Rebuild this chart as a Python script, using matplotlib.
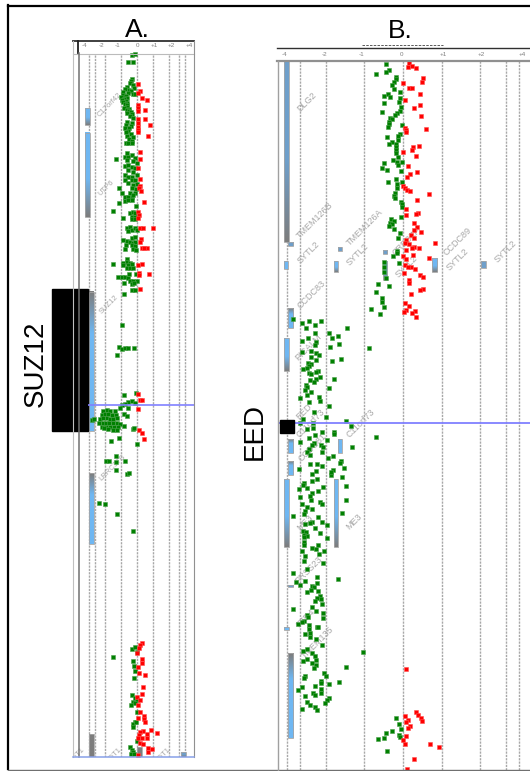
import numpy as np
import matplotlib
matplotlib.use("Agg")
import matplotlib.pyplot as plt
from matplotlib.colors import LinearSegmentedColormap
from matplotlib.lines import Line2D
from matplotlib.patches import Rectangle

plt.rcParams['font.family'] = ['Liberation Sans', 'DejaVu Sans']

W, H = 530, 771

# log ratio, row position on the track
a_green = np.array([
    (-.33,55),(-.12,54),(-.54,62),(-.27,62),(-.3,79),(-.4,81),(-.45,83),(-.25,85),(-.6,87),(-.2,88),(-.75,89),(-.5,90),
    (-.35,91),(-.85,92),(-.55,93),(-.25,94),(-.1,94),(-.9,95),(-.7,96),(-1.0,97),(-.6,98),(-.8,99),(-.95,100),(-.7,101),
    (-.85,102),(-.6,103),(-.75,104),(-.65,105),(-.6,107),(-.8,108),(-.5,109),(-.65,110),(-.5,111),(-.4,112),(-.6,113),
    (-.3,114),(-.45,116),(-.25,118),(-.6,122),(-.3,123),(-.7,125),(-.4,126),(-.75,128),(-.5,128),(-.55,131),(-.7,132),
    (-.35,134),(-.6,136),(-.25,137),(-.5,139),(-.3,141),(-.7,143),(-.55,143),(-.3,143),
    (-1.33,159),(-.65,153),(-.75,157),(-.54,157),(-.33,155),(-.12,158),(-.65,160),(-.23,161),(-.02,163),(-.75,166),
    (-.54,165),(-.33,167),(-.12,168),(-.54,170),(-.23,172),(-.75,175),(-.54,177),(-.33,177),(-.02,175),(-.75,180),
    (-.33,180),(-.12,180),(-.54,183),(-.23,185),(-.02,184),(-1.1,188),(-.33,188),(-.06,189),(-.96,193),(-.44,193),
    (-.12,193),(-.75,197),(-.54,197),(-.33,197),(-.23,195),(-1.1,203),(-.75,201),(-.54,200),(-.33,200),(-.06,206),
    (-1.48,211),(-.44,213),(-.23,212),(-.12,213),(-.33,217),(-.12,217),(-.9,218),(-.33,219),(-.12,219),
    (-.65,228),(-.44,227),(-.54,231),(-.33,230),(-.12,228),(-.02,230),(-.85,240),(-.65,241),(-.33,238),(-.12,237),
    (-.44,242),(-.23,243),(-.12,242),(-.69,245),(-.33,245),(-.12,246),(-.75,249),(-.23,249),(-.06,250),(-.65,259),
    (-1.52,264),(-.85,263),(-.65,262),(-.44,263),(-.85,265),(-.54,265),(-.33,264),(-.65,268),(-.44,268),(-.23,268),
    (-.48,274),(-.06,274),(-1.17,277),(-.96,277),(-.75,277),(-.54,278),(-.44,281),(-.23,281),(-.02,281),(-.81,283),
    (-.33,284),(-.19,283),(-.33,290),(-.12,290),(-.81,294),(-.94,325),(-1.1,347),(-.96,349),(-.75,348),(-.58,348),
    (-.17,348),(-1.27,355),(-.81,395),(-.06,393),(-.54,402),(-.33,401),(-.75,404),(-.12,403),(-.96,405),(-1.06,408),
    (-.54,408),(-.81,414),(-.6,416),(-2.83,420),(-2.67,419),
    (-2.1,411),(-1.9,410),(-1.69,411),(-1.38,411),(-2.21,415),(-2.0,414),(-1.79,414),(-1.58,415),(-1.33,415),(-2.31,419),
    (-2.1,418),(-1.9,418),(-1.69,419),(-1.48,419),(-1.27,418),(-2.35,423),(-2.15,423),(-1.94,423),(-1.73,423),(-1.52,423),
    (-1.27,423),(-1.06,424),(-.81,426),(-2.21,427),(-1.94,427),(-1.69,427),(-1.44,427),(-1.17,427),(-1.79,429),(-1.48,430),
    (-1.23,430),(-2.06,428),(-.27,429),(-.17,428),(-1.63,441),(-1.15,438),(-.02,444),
    (-1.33,456),(-1.94,461),(-1.75,461),(-1.33,462),(-.75,461),(-1.33,470),(-.65,474),(-.48,473),(-2.38,503),(-2.02,504),
    (-1.27,514),(-.23,531),(-1.48,657),(-.33,649),(-.12,647),(-.02,652),(-.27,661),(-.17,666),(-.1,671),(-.17,678),
    (-.29,695),(-.12,698),(-.02,700),(-.27,702),(-.4,705),(-.12,703),(-.02,712),(-.12,722),(-.23,724),(-.06,722),
    (-.23,727),(-.02,741),(-.44,747),(-.33,750),(-.23,752),(-.4,754),(-.19,754),
])
a_red = np.array([
    (.08,84),(.19,91),(.08,93),(.29,98),(.63,100),(.04,105),(.04,108),(.5,110),(.08,111),(.5,119),(.08,119),(.08,123),
    (.83,125),(.08,127),(.08,130),(.08,132),(.67,136),(.19,152),(.21,159),(.08,168),(.19,179),(.19,186),(.12,188),
    (.23,191),(.46,202),(.08,212),(.12,215),(.04,218),(.19,228),(.4,228),(1.0,228),(.25,239),(.19,242),(.29,248),
    (.6,248),(.44,248),(.04,265),(.33,264),(.12,273),(.12,275),(.75,274),(.17,289),(.04,394),(.19,400),(.29,400),
    (.08,409),(.12,430),(.33,433),(.42,439),(.29,643),(.19,645),(.15,648),(.02,653),(.29,659),(.29,663),(.08,667),
    (.15,673),(.5,675),(.35,687),(.29,694),(.02,697),(.19,700),(.08,705),(.19,712),(.46,716),(.08,718),(.46,719),
    (.5,722),(.4,731),(.19,732),(.88,730),(1.25,733),(.6,734),(.12,735),(.08,738),(.29,738),(.6,738),(.19,743),
    (.4,744),(.71,748),(.92,749),(.67,752),(.04,755),
])
b_green = np.array([
    (-.43,64),(-.36,70),(-.43,72),(-.7,74),(-.17,77),(-.19,79),(-.22,82),(-.28,85),(-.22,89),(-.09,92),(-.38,94),(-.5,96),
    (-.33,97),(-.07,98),(-.1,102),(-.5,103),(-.05,107),(-.53,112),(-.09,111),(-.16,113),(-.21,115),(-.33,118),(-.29,119),
    (-.36,122),(-.36,124),(-.38,127),(-.02,125),(-.07,134),(-.12,136),(-.42,137),(-.12,140),(-.29,142),(-.35,144),
    (-.19,144),(-.19,147),(-.19,150),(-.19,153),(-.12,157),(-.25,160),(-.03,162),(-.15,162),(-.48,163),(-.14,165),
    (-.53,168),(-.41,170),(-.06,171),(-.19,179),(-.38,182),(-.02,182),(-.15,184),(-.16,188),(-.21,193),(-.23,196),
    (-.21,198),(-.05,202),(-.02,204),(-.02,207),(-.05,217),(-.31,219),(-.22,221),(-.34,223),(-.29,224),(-.36,226),
    (-.24,229),(-.08,233),(-.12,238),(-.16,251),(-.16,253),(-.27,256),(-.5,262),(-.1,263),(-.48,267),(-.48,272),
    (-.45,278),(-.64,284),(-.37,286),(-.71,292),(-.55,298),(-.53,302),(-.82,309),(-.5,307),(-.59,314),
    (-2.84,319),(-2.6,323),(-2.42,321),(-2.27,325),(-2.11,321),(-2.5,328),(-1.44,328),(-2.28,333),(-1.91,333),(-1.69,336),
    (-2.45,338),(-1.84,338),(-2.62,341),(-2.25,342),(-2.28,345),(-1.65,344),(-1.88,347),(-.89,348),(-2.62,352),(-2.37,351),
    (-2.25,353),(-2.17,355),(-2.37,357),(-2.24,360),(-1.84,361),(-1.6,359),(-2.45,363),(-2.38,364),(-2.42,366),(-2.58,369),
    (-2.49,368),(-2.19,371),(-2.44,373),(-2.37,374),(-2.24,372),(-2.15,377),(-2.24,379),(-1.79,379),(-2.4,380),(-2.31,382),
    (-2.51,385),(-2.49,387),(-2.53,390),(-2.39,392),(-2.49,395),(-1.92,388),(-2.65,398),(-2.16,397),(-2.15,401),(-2.44,402),
    (-1.91,406),(-2.31,412),(-1.99,417),(-2.59,419),(-1.46,421),(-2.66,423),(-2.32,423),(-1.34,426),(-2.48,429),(-2.33,428),
    (-2.09,432),(-1.79,432),(-1.79,434),(-2.28,435),(-.71,437),(-2.42,438),(-1.97,440),(-2.66,442),(-2.3,443),(-2.36,445),
    (-2.12,445),(-1.33,447),(-2.43,449),(-2.06,447),(-2.47,452),(-2.09,452),(-2.4,455),(-1.81,456),(-1.93,458),(-1.6,461),
    (-1.63,463),(-2.41,464),(-2.22,464),(-2.1,466),(-1.53,468),(-2.69,469),(-2.25,471),(-1.82,470),(-2.35,474),(-1.86,475),
    (-1.87,472),(-1.58,477),(-2.21,479),(-2.34,481),(-2.55,483),(-2.59,485),(-1.46,486),(-2.06,487),(-2.68,489),(-2.47,488),
    (-2.19,491),(-2.36,493),(-2.41,496),(-2.66,497),(-1.46,500),(-2.39,500),(-2.15,502),(-2.1,504),(-2.6,504),(-2.47,507),
    (-2.34,509),(-2.53,511),(-1.58,513),(-2.56,514),(-2.84,516),(-2.19,517),(-2.36,522),(-2.41,523),(-2.09,522),(-2.53,524),
    (-1.96,525),(-2.28,528),(-2.59,531),(-2.51,532),(-2.15,533),(-2.57,535),(-2.47,536),(-2.55,537),(-1.96,538),
    (-2.56,542),(-2.56,545),(-2.19,545),(-2.34,548),(-2.24,549),(-2.03,551),(-2.62,551),(-2.16,554),(-2.53,556),(-2.55,561),
    (-2.08,563),(-2.49,569),(-2.85,573),(-2.22,577),(-1.67,579),(-2.52,581),(-2.77,582),(-2.65,585),(-2.23,583),(-2.36,586),
    (-2.3,587),(-2.47,592),(-2.19,591),(-2.38,590),(-2.15,596),(-2.21,598),(-2.28,601),(-2.12,599),(-2.1,604),(-2.34,607),
    (-2.84,609),(-2.25,611),(-2.08,613),(-2.08,618),(-2.49,615),(-2.45,617),(-2.55,621),(-2.62,622),(-2.71,624),(-2.43,625),
    (-2.43,629),(-2.23,627),(-2.19,627),(-2.4,633),(-2.53,634),(-2.41,637),(-2.26,639),(-2.09,645),(-1.04,652),(-2.59,651),
    (-2.47,649),(-2.36,653),(-2.28,656),(-2.47,659),(-2.59,661),(-2.24,660),(-2.34,663),(-2.24,665),(-2.3,668),(-1.46,667),
    (-2.03,673),(-2.0,676),(-2.53,676),(-2.57,678),(-2.13,681),(-2.13,683),(-1.91,684),(-1.65,682),(-2.27,686),(-2.6,687),
    (-2.71,690),(-2.11,689),(-2.11,693),(-2.32,693),(-2.27,695),(-2.54,696),(-1.91,698),(-1.96,700),(-2.02,703),(-2.49,702),
    (-2.41,705),(-2.28,707),(-2.6,709),(-2.21,710),
    (-.17,718),(-.1,724),(-.06,729),(-.29,731),(-.43,733),(-.48,738),(-.65,739),(-.1,735),(-.08,737),(-.41,751),
])
b_red = np.array([
    (.16,63),(.14,67),(.24,66),(.33,68),(.52,78),(.48,82),(0,83),(.16,88),(.22,88),(.44,94),(.06,100),(.45,105),(.28,108),
    (.47,116),(.6,129),(.05,128),(.09,130),(.09,132),(.41,146),(.26,147),(.23,150),(0,152),(.34,156),(.13,166),(.37,172),
    (.18,174),(.11,177),(0,186),(.05,188),(.11,190),(.19,191),(.66,194),(.37,200),(.09,209),(.4,213),(.33,214),(.07,215),
    (.28,223),(.37,227),(.28,230),(.47,232),(.21,235),(.28,238),(.09,240),(.05,243),(.16,244),(.83,243),(.28,247),(.22,248),
    (.09,250),(.41,248),(.01,256),(.25,255),(.09,259),(.66,258),(.05,265),(.2,267),(.14,267),(.31,269),(.03,273),(.44,275),
    (.52,277),(.16,280),(.16,283),(.52,289),(.44,290),(.2,294),(.05,303),(.15,306),(.07,310),(.03,312),(.3,311),(.22,313),
    (.34,317),(.09,669),(.04,716),(.34,712),(.38,715),(.47,718),(.5,721),(.14,720),(.09,722),(.17,726),(.14,728),(.09,736),
    (-.01,740),(.04,744),(.71,744),(.93,747),(.28,759),(.11,769),
])

tick_labels = ['-4', '-2', '-1', '0', '+1', '+2', '+4']
a_tick_pos = [-3.25, -2.19, -1.19, 0, 1.06, 2.13, 3.25]
b_tick_pos = [-3.07, -2.04, -1.06, -0.03, 1.03, 2.02, 3.07]
grid_vals = [-3, -2.65, -2, -1, 0, 1, 2, 2.65, 3]

BLUE, GRAY, STEEL = '#6fb7f2', '#7d7d7d', '#6f9fca'
# x0, x1, y0, y1, top colour, bottom colour
a_genes = [
    (-3.25, -2.94, 108, 125, BLUE, GRAY),
    (-3.25, -2.94, 133, 217, BLUE, GRAY),
    (-3.0, -2.69, 292, 431, GRAY, BLUE),
    (-3.0, -2.69, 473, 544, GRAY, BLUE),
    (-3.0, -2.69, 734, 757, GRAY, GRAY),
    (0.0, 0.31, 747, 757, GRAY, GRAY),
    (2.75, 3.06, 752, 757, STEEL, GRAY),
]
b_genes = [
    (-3.07, -2.95, 61, 242, STEEL, GRAY),
    (-2.97, -2.84, 242, 246, STEEL, STEEL),
    (-3.07, -2.97, 261, 269, BLUE, BLUE),
    (-1.68, -1.58, 247, 251, STEEL, STEEL),
    (-1.78, -1.68, 261, 272, BLUE, GRAY),
    (-.52, -.41, 250, 254, STEEL, STEEL),
    (-.52, -.41, 261, 280, BLUE, GRAY),
    (.75, .88, 258, 272, BLUE, GRAY),
    (2.02, 2.14, 261, 268, STEEL, STEEL),
    (-2.97, -2.84, 308, 328, GRAY, BLUE),
    (-3.07, -2.95, 338, 371, BLUE, GRAY),
    (-2.97, -2.84, 439, 453, GRAY, BLUE),
    (-2.97, -2.84, 461, 475, GRAY, BLUE),
    (-1.68, -1.58, 439, 453, BLUE, BLUE),
    (-3.07, -2.95, 479, 547, BLUE, GRAY),
    (-1.78, -1.68, 479, 547, BLUE, GRAY),
    (-2.97, -2.84, 585, 587, STEEL, STEEL),
    (-3.07, -2.95, 627, 630, BLUE, BLUE),
    (-2.97, -2.84, 653, 738, GRAY, BLUE),
]
a_names = [('C17orf42', -1.7, 105), ('UTP6', -1.9, 188), ('SUZ12', -1.75, 305), ('LRRC37B', -1.55, 468),
           ('RHOT1', -1.6, 758), ('RHOT1', 1.45, 758), ('RHOT1', -3.9, 758)]
b_names = [('DLG2', -2.48, 102), ('TMEM126B', -2.27, 220), ('TMEM126A', -.99, 227), ('CCDC89', 1.42, 242),
           ('SYTL2', -2.45, 253), ('SYTL2', -1.17, 255), ('SYTL2', 1.4, 260), ('SYTL2', 2.64, 252),
           ('SYTL2', .1, 267), ('CREBZF', .1, 242), ('CCDC83', -2.37, 295), ('PICALM', -2.45, 347),
           ('EED', -2.55, 412), ('C11orf73', -2.4, 423), ('C11orf73', -1.09, 423), ('CCDC81', -2.35, 448),
           ('ME3', -2.53, 523), ('ME3', -1.27, 522), ('PRSS23', -2.45, 570), ('FZD4', -2.53, 618),
           ('TMEM135', -2.2, 643)]


def make_axes(left, right, top, bottom):
    ax = fig.add_axes([left / W, 1 - bottom / H, (right - left) / W, (bottom - top) / H])
    ax.axis('off')
    return ax


def draw_panel(ax, greens, reds, genes, names, tick_pos, tick_y, grid_top, bottom, name_size):
    ax.vlines(grid_vals, grid_top, bottom, color='#a8a8a8', lw=1, linestyles=(0, (1.6, 0.8)), zorder=1)
    for x0, x1, y0, y1, c_top, c_bottom in genes:
        # the grey end of a bar is short, most of it stays blue
        if c_top == GRAY:
            stops = [(0, c_top), (0.3, c_bottom), (1, c_bottom)]
        else:
            stops = [(0, c_top), (0.55, c_top), (1, c_bottom)]
        cmap = LinearSegmentedColormap.from_list('g', stops)
        ax.imshow(np.linspace(0, 1, 64).reshape(-1, 1), cmap=cmap, aspect='auto', extent=(x0, x1, y1, y0),
                  zorder=2, interpolation='bilinear')
        ax.add_patch(Rectangle((x0, y0), x1 - x0, y1 - y0, fill=False, ec='#a5a5a5', lw=0.6, zorder=2))
    for name, x, y in names:
        ax.text(x, y, name, rotation=45, fontsize=name_size, color='#a8a8a8', ha='center', va='center',
                zorder=3, clip_on=True)
    ax.plot(greens[:, 0], greens[:, 1], 's', color='#008000', ms=3.3, mew=0.4, mec='#4aa04a', zorder=4)
    ax.plot(reds[:, 0], reds[:, 1], 's', color='#ff0000', ms=3.3, mew=0.4, mec='#ff5050', zorder=4)
    for pos, lab in zip(tick_pos, tick_labels):
        ax.text(pos, tick_y, lab, fontsize=4.5, color='#808080', ha='center', va='center')


fig = plt.figure(figsize=(W / 100, H / 100), dpi=100)


def fig_line(xs, ys, color='black', lw=1.0, **kw):
    fig.add_artist(Line2D([x / W for x in xs], [1 - y / H for y in ys], color=color, lw=lw, **kw))


# panel A
ax_a = make_axes(73, 194, 41, 757)
draw_panel(ax_a, a_green, a_red, a_genes, a_names, a_tick_pos, 46, 55, 757, 5.5)
ax_a.set_xlim((73 - 137) / 16, (194 - 137) / 16)
ax_a.set_ylim(757, 41)
ax_a.add_patch(Rectangle((-5.31, 289), 2.25, 142, color='black', clip_on=False, zorder=5))
ax_a.hlines(405, -3.06, 3.56, color='#8080ff', lw=1.2, zorder=5)
ax_a.text(-6.35, 364, 'SUZ12', rotation=90, fontsize=20, ha='center', va='center', clip_on=False)
ax_a.text(0, 30, 'A.', fontsize=19, ha='center', va='center', clip_on=False)

# panel B
ax_b = make_axes(278, 530, 47, 771)
draw_panel(ax_b, b_green, b_red, b_genes, b_names, b_tick_pos, 54, 61, 771, 6.5)
ax_b.set_xlim((278 - 403) / 38.7, (530 - 403) / 38.7)
ax_b.set_ylim(771, 47)
ax_b.add_patch(Rectangle((-3.18, 420), 0.36, 13, color='black', clip_on=False, zorder=5))
ax_b.hlines(422.7, (278 - 403) / 38.7, (530 - 403) / 38.7, color='#8080ff', lw=1.3, zorder=4.5)
ax_b.text(-3.83, 432, 'EED', rotation=90, fontsize=20, ha='center', va='center', clip_on=False)
ax_b.text(-0.08, 31, 'B.', fontsize=19, ha='center', va='center', clip_on=False)

# outer frame
fig_line([8, 8], [5, 769], lw=1.6)
fig_line([8, 530], [5.5, 5.5], lw=1.6)
fig_line([8, 530], [769.8, 769.8], color='#707070', lw=1)

# panel A rules
fig_line([73, 194], [41, 41], color='#303030', lw=1.3)
fig_line([73, 194], [53.5, 53.5], color='#bbbbbb', lw=0.8)
fig_line([78, 78], [41, 53], color='#202020', lw=1.3)
fig_line([78.5, 78.5], [53, 757], color='#707070', lw=1.1)
fig_line([73, 73], [41, 757], color='#c0c0c0', lw=0.8)
fig_line([194, 194], [41, 757], color='#909090', lw=0.8)
fig_line([73, 194], [757, 757], color='#88a0e8', lw=1.1)

# panel B rules
fig_line([277, 530], [48, 48], color='#303030', lw=1)
fig_line([277, 530], [61, 61], color='#909090', lw=1.6)
fig_line([278, 278], [61, 771], color='#a0a0a0', lw=1)
fig_line([362, 443], [45, 45], color='#404040', lw=0.6, linestyle=(0, (3, 1.5)))

fig.savefig('out.png', dpi=100)
